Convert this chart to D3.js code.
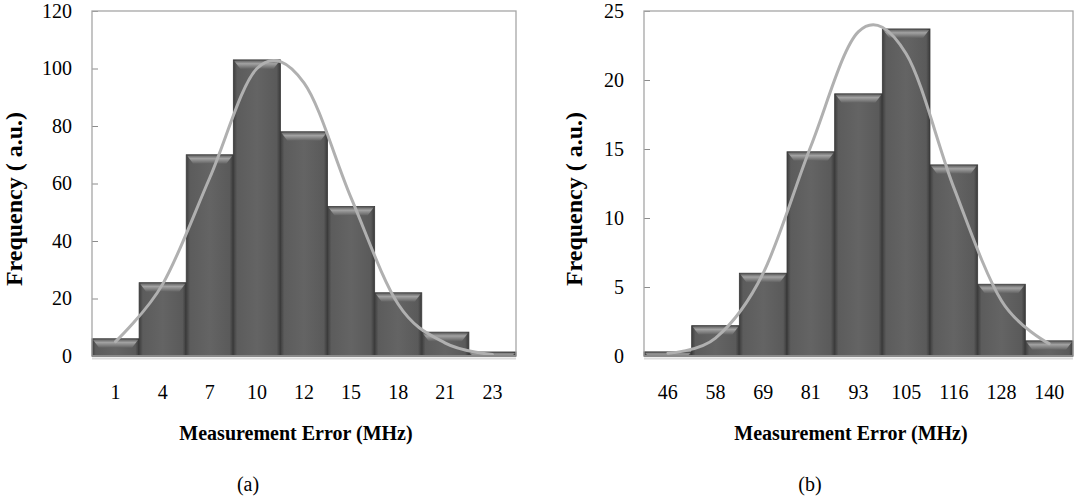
<!DOCTYPE html>
<html>
<head>
<meta charset="utf-8">
<script src="https://cdn.jsdelivr.net/npm/d3@7"></script>
<style>
  body { margin: 0; background: #fff; }
  svg text { font-family: 'Liberation Serif', 'Times New Roman', Times, 'DejaVu Serif', serif !important; }
</style>
</head>
<body>
<script>
// DATA
// panel (a)
const catsA = ["1", "4", "7", "10", "12", "15", "18", "21", "23"];
const barsA = [6, 25.5, 70, 103, 78, 52, 22, 8.3, 1.4];
const fitA = [5, 25, 62, 100, 95, 55, 18, 4.5, 0.5];
const ticksA = [0, 20, 40, 60, 80, 100, 120];

// panel (b)
const catsB = ["46", "58", "69", "81", "93", "105", "116", "128", "140"];
const barsB = [0.3, 2.2, 6.0, 14.8, 19.0, 23.7, 13.85, 5.2, 1.1];
const fitB = [0.2, 1.3, 6.0, 15.2, 23.5, 21.9, 12.2, 4.0, 0.9];
const ticksB = [0, 5, 10, 15, 20, 25];

const svg = d3.select("body").append("svg")
    .attr("width", 1075)
    .attr("height", 497);

// gradients for the bevelled bars
const defs = svg.append("defs");
const body = defs.append("linearGradient").attr("id", "barBody")
    .attr("x1", 0).attr("x2", 1).attr("y1", 0).attr("y2", 0);
body.append("stop").attr("offset", "0%").attr("stop-color", "#3e3e3e");
body.append("stop").attr("offset", "8%").attr("stop-color", "#5c5c5c");
body.append("stop").attr("offset", "50%").attr("stop-color", "#646464");
body.append("stop").attr("offset", "92%").attr("stop-color", "#5a5a5a");
body.append("stop").attr("offset", "100%").attr("stop-color", "#3a3a3a");

const bevel = defs.append("linearGradient").attr("id", "barTop")
    .attr("x1", 0).attr("x2", 0).attr("y1", 0).attr("y2", 1);
bevel.append("stop").attr("offset", "0%").attr("stop-color", "#6a6a6a");
bevel.append("stop").attr("offset", "35%").attr("stop-color", "#a2a2a2");
bevel.append("stop").attr("offset", "100%").attr("stop-color", "#626262");

function drawPanel(p) {
    const x = d3.scaleBand()
        .domain(p.cats)
        .range([p.left, p.right])
        .padding(0);

    const y = d3.scaleLinear()
        .domain([0, p.ymax])
        .range([p.bottom, p.top]);

    const g = svg.append("g");

    // y axis, ticks pointing inside the plot
    const yAxis = g.append("g")
        .attr("transform", "translate(" + p.left + ",0)")
        .call(d3.axisLeft(y).tickValues(p.ticks).tickSize(-6).tickPadding(20));
    yAxis.select(".domain").remove();
    yAxis.selectAll("line").attr("stroke", "#8c8c8c");
    yAxis.selectAll("text")
        .attr("font-size", 20)
        .attr("fill", "#000");

    // bars
    const bars = g.append("g").selectAll("g").data(p.bars).enter().append("g");
    bars.append("rect")
        .attr("x", (d, i) => x(p.cats[i]))
        .attr("y", d => y(d))
        .attr("width", x.bandwidth())
        .attr("height", d => y(0) - y(d))
        .attr("fill", "url(#barBody)")
        .attr("stroke", "#3a3a3a")
        .attr("stroke-width", 0.8);
    bars.append("path")
        .attr("d", (d, i) => {
            const x0 = x(p.cats[i]) + 1, x1 = x0 + x.bandwidth() - 2;
            const y0 = y(d) + 1;
            const h = Math.min(8, y(0) - y(d) - 1);
            const ins = Math.min(6, h);
            return "M" + x0 + "," + y0 + "L" + x1 + "," + y0 +
                "L" + (x1 - ins) + "," + (y0 + h) + "L" + (x0 + ins) + "," + (y0 + h) + "Z";
        })
        .attr("fill", "url(#barTop)");

    // fitted curve
    const line = d3.line()
        .x((d, i) => x(p.cats[i]) + x.bandwidth() / 2)
        .y(d => y(d))
        .curve(d3.curveCardinal.tension(0));
    g.append("path")
        .datum(p.fit)
        .attr("d", line)
        .attr("fill", "none")
        .attr("stroke", "#b0b0b0")
        .attr("stroke-width", 3)
        .attr("stroke-linecap", "round");

    // plot frame + base line
    g.append("rect")
        .attr("x", p.left).attr("y", p.top)
        .attr("width", p.right - p.left).attr("height", p.bottom - p.top)
        .attr("fill", "none")
        .attr("stroke", "#a6a6a6")
        .attr("stroke-width", 1.3);
    g.append("line")
        .attr("x1", p.left).attr("x2", p.right)
        .attr("y1", p.bottom + 2.5).attr("y2", p.bottom + 2.5)
        .attr("stroke", "#dcdcdc").attr("stroke-width", 2);
    g.append("line")
        .attr("x1", p.left).attr("x2", p.right)
        .attr("y1", p.bottom).attr("y2", p.bottom)
        .attr("stroke", "#8a8a8a").attr("stroke-width", 2);

    // x axis labels
    const xAxis = g.append("g")
        .attr("transform", "translate(0," + p.bottom + ")")
        .call(d3.axisBottom(x).tickSize(0).tickPadding(29));
    xAxis.select(".domain").remove();
    xAxis.selectAll("text")
        .attr("font-size", 20)
        .attr("fill", "#000");

    // titles
    g.append("text")
        .attr("x", p.titleX).attr("y", 440)
        .attr("text-anchor", "middle")
        .attr("font-size", 20).attr("font-weight", "bold")
        .text("Measurement Error (MHz)");

    g.append("text")
        .attr("transform", "translate(" + p.yTitleX + ",199) rotate(-90)")
        .attr("text-anchor", "middle")
        .attr("font-size", 24).attr("font-weight", "bold")
        .text("Frequency ( a.u.)");

    g.append("text")
        .attr("x", p.capX).attr("y", 491)
        .attr("text-anchor", "middle")
        .attr("font-size", 20)
        .text(p.caption);
}

drawPanel({
    cats: catsA, bars: barsA, fit: fitA, ticks: ticksA, ymax: 120,
    left: 92, right: 516, top: 11, bottom: 356,
    titleX: 296, yTitleX: 22, capX: 248, caption: "(a)"
});

drawPanel({
    cats: catsB, bars: barsB, fit: fitB, ticks: ticksB, ymax: 25,
    left: 644, right: 1073, top: 11, bottom: 356,
    titleX: 851, yTitleX: 582, capX: 810, caption: "(b)"
});
</script>
</body>
</html>
